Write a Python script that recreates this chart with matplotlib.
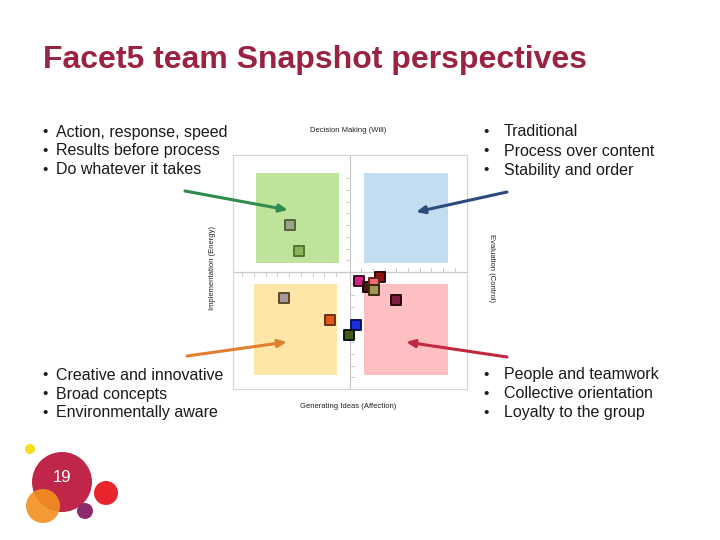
import matplotlib
matplotlib.use("Agg")
import matplotlib.pyplot as plt
from matplotlib.patches import Rectangle, Circle
import numpy as np

plt.rcParams['font.family'] = ['Liberation Sans', 'DejaVu Sans']

title = "Facet5 team Snapshot perspectives"

top_left = ["Action, response, speed", "Results before process", "Do whatever it takes"]
top_right = ["Traditional", "Process over content", "Stability and order"]
bottom_left = ["Creative and innovative", "Broad concepts", "Environmentally aware"]
bottom_right = ["People and teamwork", "Collective orientation", "Loyalty to the group"]

label_top = "Decision Making (Will)"
label_bottom = "Generating Ideas (Affection)"
label_left = "Implementation (Energy)"
label_right = "Evaluation (Control)"

# team members (x: affection axis, y: will axis)
px = [-5.1, -4.4, -5.6, -1.75, 0.5, -0.1, 0.75, 1.55, 2.55, 2.05, 2.05, 3.95]
py = [4.0, 1.8, -2.2, -4.1, -4.5, -5.4, -0.75, -1.3, -0.4, -0.9, -1.5, -2.4]
fills = ['#9aa585', '#8cb35c', '#a89a9c', '#e8561c', '#1c2edc', '#3f5a1c',
         '#d81e8a', '#4a1a12', '#8e1212', '#ea7070', '#a39553', '#7c2042']
edges = ['#556238', '#4d7a2b', '#5b4a2a', '#6a3516', '#0c1266', '#111111',
         '#3a0a20', '#1a0505', '#330505', '#6a2020', '#3a2a10', '#2a0a10']

# quadrant boxes: (x0, y0, w, h, colour)
quads = [(-8.0, 0.75, 7.05, 7.75, '#bee39a'),
         (1.2, 0.75, 7.2, 7.75, '#c4dcef'),
         (-8.2, -8.8, 7.1, 7.8, '#fde6a6'),
         (1.2, -8.8, 7.2, 7.8, '#fdbfc1')]

# arrows in slide pixels: (x_start, y_start, x_end, y_end, colour)
arrows = [(185, 191, 288, 210, '#2e8b4c'),
          (507, 192, 416, 212, '#2b4b7c'),
          (187, 356, 287, 342, '#e0802e'),
          (507, 357, 406, 342, '#c2283f')]

# page-number bubbles: (x, y, r, colour, alpha)
bubbles = [(30, 449, 5, '#f6dc1c', 1.0),
           (62, 482, 30, '#c0264a', 1.0),
           (43, 506, 17, '#f39020', 0.9),
           (106, 493, 12, '#e8242c', 1.0),
           (85, 511, 8, '#8e2a6e', 1.0)]
page_no = "19"

fig = plt.figure(figsize=(7.2, 5.4), dpi=100)

# chart
ax = fig.add_axes([233 / 720, 1 - 389 / 540, 234 / 720, 234 / 540])
ax.set_xlim(-10, 10)
ax.set_ylim(-10, 10)
ax.set_xticks([])
ax.set_yticks([])
for sp in ax.spines.values():
    sp.set_color('#d4d4d4')
    sp.set_linewidth(0.8)

for x0, y0, w, h, c in quads:
    ax.add_patch(Rectangle((x0, y0), w, h, color=c, lw=0, zorder=1))

ax.axhline(0, color='#c8c8c8', lw=0.9, zorder=2)
ax.axvline(0, color='#c8c8c8', lw=0.9, zorder=2)
tl = 0.35
for t in np.arange(-9.2, -0.5, 1.0):
    ax.plot([t, t], [0, -tl], color='#cccccc', lw=0.7, zorder=2)
for t in np.arange(0.95, 9.5, 1.0):
    ax.plot([t, t], [0, tl], color='#cccccc', lw=0.7, zorder=2)
for t in np.arange(1, 9, 1.0):
    ax.plot([-tl, 0], [t, t], color='#cccccc', lw=0.7, zorder=2)
for t in np.arange(-1, -9.5, -1.0):
    ax.plot([0, tl], [t, t], color='#cccccc', lw=0.7, zorder=2)

for i in range(len(px)):
    ax.scatter(px[i], py[i], marker='s', s=50, c=fills[i], edgecolors=edges[i],
               linewidths=1.4, zorder=3 + i)

# slide layer on top
bg = fig.add_axes([0, 0, 1, 1])
bg.set_zorder(5)
bg.patch.set_alpha(0)
bg.set_xlim(0, 720)
bg.set_ylim(540, 0)
bg.axis('off')

bg.text(43, 68, title, fontsize=23, fontweight='bold', color='#9b2342', va='baseline')

txt = '#1a1a1a'
def bullets(items, xb, xt, y0):
    for i, s in enumerate(items):
        y = y0 + i * 19
        bg.text(xb, y, "\u2022", fontsize=11, color=txt, va='center', ha='center')
        bg.text(xt, y, s, fontsize=11.5, color=txt, va='center')

bullets(top_left, 45, 56, 132)
bullets(top_right, 486, 504, 132)
bullets(bottom_left, 45, 56, 375)
bullets(bottom_right, 486, 504, 375)

for x, y, r, c, a in bubbles:
    bg.add_patch(Circle((x, y), r, color=c, alpha=a, lw=0))
bg.text(62, 478, page_no, fontsize=12, color='white', ha='center', va='center')

for x0, y0, x1, y1, c in arrows:
    bg.annotate("", xy=(x1, y1), xytext=(x0, y0), zorder=20,
                arrowprops=dict(arrowstyle='-|>,head_length=0.5,head_width=0.22',
                                color=c, lw=2.2, shrinkA=0, shrinkB=0))

small = dict(fontsize=5.5, color='#222222', ha='center', va='center')
bg.text(348, 131, label_top, **small)
bg.text(348, 407, label_bottom, **small)
bg.text(213, 268, label_left, rotation=90, **small)
bg.text(492, 268, label_right, rotation=-90, **small)

fig.savefig("out.png", dpi=100)
